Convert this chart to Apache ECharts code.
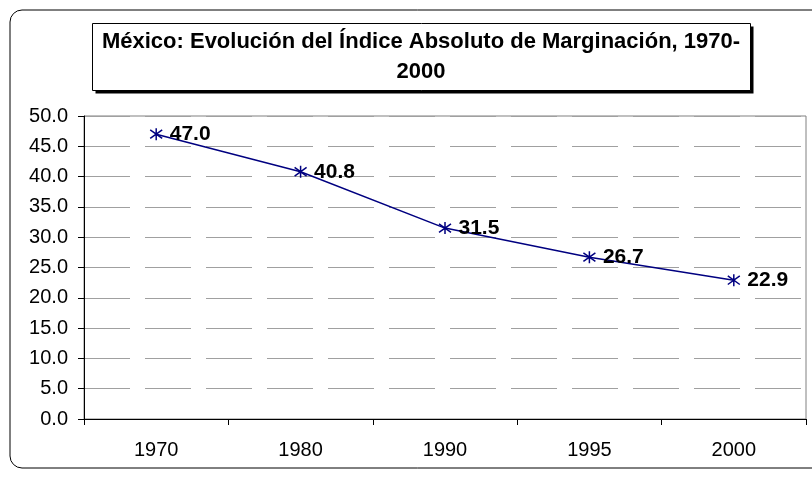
<!doctype html>
<html lang="es">
<head>
    <meta charset="UTF-8">
    <title>Índice Absoluto de Marginación</title>
    <style>
        html, body { margin: 0; padding: 0; background: #fff; }
        #main { width: 812px; height: 478px; }
    </style>
    <script src="https://cdnjs.cloudflare.com/ajax/libs/echarts/6.0.0/echarts.min.js"></script>
</head>
<body>
    <div id="main"></div>
    <script>
        var years = ['1970', '1980', '1990', '1995', '2000'];
        var indice = [47.0, 40.8, 31.5, 26.7, 22.9];
        var titulo = 'México: Evolución del Índice Absoluto de Marginación, 1970-\n2000';

        // asterisco tipo Excel: X con linea vertical
        var asterisco = 'path://M0,0 L10,10 M10,0 L0,10 M5,-2 L5,12';

        window.onload = function () {
            var chart = echarts.init(document.getElementById('main'));
            var font = 'Arial, "Liberation Sans", sans-serif';
            var option = {
                animation: false,
                textStyle: { fontFamily: font },
                title: {
                    text: titulo,
                    left: 421,
                    top: 27,
                    textAlign: 'center',
                    padding: 0,
                    textStyle: {
                        fontFamily: font,
                        fontSize: 22,
                        fontWeight: 'bold',
                        color: '#000',
                        lineHeight: 30
                    }
                },
                graphic: [{
                    type: 'rect',
                    z: -10,
                    shape: { x: 10, y: 10, width: 830, height: 458, r: 12 },
                    style: { fill: 'none', stroke: '#000', lineWidth: 1 }
                }, {
                    // sombra del cuadro del titulo
                    type: 'rect',
                    z: -5,
                    shape: { x: 95.5, y: 26.5, width: 658, height: 67 },
                    style: { fill: '#000' }
                }, {
                    type: 'rect',
                    z: -4,
                    shape: { x: 92.5, y: 23.5, width: 658, height: 67 },
                    style: { fill: '#fff', stroke: '#000', lineWidth: 1 }
                }],
                grid: {
                    left: 84,
                    right: 6,
                    top: 116,
                    bottom: 59,
                    show: true,
                    borderColor: '#808080',
                    borderWidth: 1
                },
                xAxis: {
                    type: 'category',
                    data: years,
                    boundaryGap: true,
                    axisLine: { lineStyle: { color: '#000', width: 1 } },
                    axisTick: { show: true, length: 6, lineStyle: { color: '#000' } },
                    axisLabel: { color: '#000', fontSize: 20, margin: 21, fontFamily: font },
                    splitLine: { show: false }
                },
                yAxis: {
                    type: 'value',
                    min: 0,
                    max: 50,
                    interval: 5,
                    axisLine: { show: true, lineStyle: { color: '#000', width: 1 } },
                    axisTick: { show: true, length: 6, lineStyle: { color: '#000' } },
                    axisLabel: {
                        color: '#000',
                        fontSize: 20,
                        margin: 16,
                        fontFamily: font,
                        formatter: function (v) { return v.toFixed(1); }
                    },
                    splitLine: {
                        show: true,
                        lineStyle: { color: '#a0a0a0', width: 1, type: [46, 15] }
                    }
                },
                series: [{
                    type: 'line',
                    data: indice,
                    symbol: asterisco,
                    symbolSize: 12,
                    showAllSymbol: true,
                    lineStyle: { color: '#000080', width: 1.5 },
                    itemStyle: { color: 'none', borderColor: '#000080', borderWidth: 1.5 },
                    label: {
                        show: true,
                        position: 'right',
                        distance: 5,
                        color: '#000',
                        fontSize: 21,
                        fontWeight: 'bold',
                        fontFamily: font,
                        formatter: function (p) { return p.value.toFixed(1); }
                    }
                }]
            };
            chart.setOption(option);
        };
    </script>
</body>
</html>
